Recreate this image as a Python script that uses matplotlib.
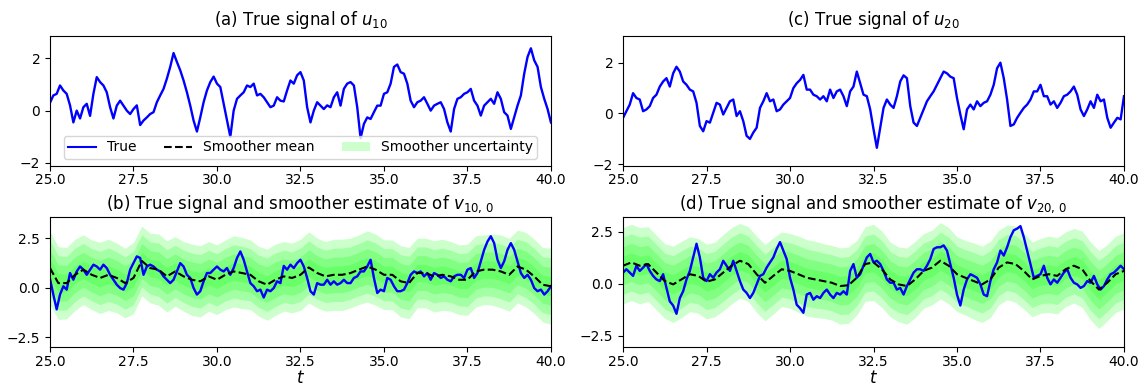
import numpy as np
import matplotlib
matplotlib.use("Agg")
import matplotlib.pyplot as plt
from matplotlib.lines import Line2D
from matplotlib.patches import Patch

# time grids
t_true = np.round(np.arange(250, 401) / 10, 1)      # 25.0 .. 40.0 step 0.1
t_smooth = np.arange(100, 161) / 4                    # 25.0 .. 40.0 step 0.25

# (a) true u_10
u10 = [0.3, 0.58, 0.64, 0.96, 0.77, 0.64, 0.2, -0.45, 0.0, -0.3,
       0.13, 0.26, -0.2, 0.64, 1.28, 1.09, 0.96, 0.7, 0.13, -0.3,
       0.19, 0.38, 0.19, 0.0, -0.13, 0.06, 0.2, -0.55, -0.38, -0.26,
       -0.13, -0.06, 0.32, 0.58, 0.83, 1.22, 1.67, 2.2, 1.86, 1.54,
       1.15, 0.7, 0.19, -0.38, -0.8, -0.26, 0.32, 0.77, 1.09, 1.3,
       1.03, 0.9, 0.26, -0.38, -1.0, 0.0, 0.45, 0.58, 0.7, 0.96,
       0.9, 1.03, 0.58, 0.64, 0.51, 0.32, 0.13, 0.19, 0.51, 0.38,
       0.35, 0.77, 1.15, 1.03, 1.35, 1.47, 1.15, 0.13, -0.45, 0.0,
       0.32, 0.19, 0.06, 0.2, 0.13, 0.51, 0.7, 0.19, 0.83, 1.03,
       1.09, 0.96, 0.13, -1.05, -0.51, -0.26, -0.32, -0.06, 0.19, 0.19,
       0.64, 0.7, 1.03, 1.67, 1.76, 1.47, 1.41, 1.03, 0.38, 0.13,
       0.32, 0.38, 0.51, 0.26, 0.0, 0.19, 0.26, 0.32, 0.06, -0.45,
       -0.8, 0.06, 0.45, 0.51, 0.64, 0.7, 0.83, 0.38, 0.19, -0.19,
       0.19, 0.32, 0.45, 0.26, 0.7, 0.45, -0.06, -0.19, -0.7, -0.26,
       0.19, 0.58, 1.41, 2.05, 2.38, 1.92, 1.67, 0.9, 0.45, 0.06,
       -0.45]

# (c) true u_20
u20 = [-0.17, 0.09, 0.35, 0.8, 0.61, 0.55, 0.09, 0.16, 0.29, 0.61,
       0.74, 1.06, 1.26, 1.39, 1.06, 1.58, 1.84, 1.65, 1.26, 1.13,
       0.94, 0.87, 0.42, -0.49, -0.7, -0.3, -0.36, 0.03, 0.42, 0.35,
       -0.04, 0.22, 0.48, 0.55, -0.1, 0.09, -0.3, -0.88, -1.0, -0.75,
       -0.56, 0.22, 0.48, 0.8, 0.48, 0.55, 0.09, 0.16, 0.35, 0.48,
       0.61, 1.0, 1.19, 1.32, 1.52, 0.94, 0.94, 0.74, 0.68, 0.55,
       0.68, 0.48, 0.94, 0.61, 0.87, 0.94, 0.68, 0.29, 0.87, 1.06,
       1.65, 1.2, 0.74, 0.68, 0.16, -0.62, -1.35, -0.56, 0.22, 0.55,
       0.35, 0.22, 0.68, 1.26, 1.5, 1.39, 0.29, -0.36, -0.49, -0.17,
       0.16, 0.48, 0.68, 0.87, 1.13, 1.39, 1.65, 1.58, 1.45, 1.39,
       0.61, -0.04, -0.62, 0.16, 0.35, 0.16, 0.48, 0.29, 0.42, 0.48,
       0.74, 1.13, 1.78, 2.0, 1.39, 0.55, -0.49, -0.43, -0.17, 0.03,
       0.22, 0.35, 0.55, 0.87, 0.87, 1.13, 0.68, 0.68, 0.35, 0.48,
       0.22, 0.42, 0.68, 0.74, 0.87, 1.06, 0.74, 0.16, -0.1, 0.16,
       0.48, 0.22, 0.74, 0.48, 0.55, -0.17, -0.56, -0.36, -0.17, -0.23,
       0.68]

# (b) true v_{10,0}
v10 = [0.45, -0.35, -1.1, -0.35, 0.07, -0.1, 0.74, 0.4, 0.82, 1.07,
       0.91, 0.65, 0.91, 1.16, 1.07, 0.91, 1.16, 0.99, 0.65, 0.4,
       0.15, -0.02, -0.1, 0.23, 0.91, 1.24, 1.58, 1.5, 0.65, 1.07,
       1.16, 1.07, 0.91, 0.82, 0.57, 0.4, 0.23, 0.4, 0.82, 1.24,
       1.07, 0.65, 0.49, -0.02, -0.35, -0.18, 0.32, 0.74, 0.74, 0.91,
       1.07, 0.91, 0.82, 0.99, 0.65, 0.99, 1.5, 1.83, 1.41, 0.82,
       0.23, 0.07, -0.18, -0.1, -0.5, -0.1, -0.18, -0.02, 0.32, 0.23,
       1.1, 0.91, 1.16, 0.99, 1.24, 1.41, 1.07, 0.49, -0.18, -0.35,
       0.23, 0.15, 0.15, 0.4, 0.15, 0.32, 0.15, 0.23, 0.4, 0.23,
       0.23, 0.49, 0.57, 0.82, 0.82, 1.07, 1.41, 0.49, -0.27, -0.1,
       -0.18, 0.49, 0.4, 0.07, -0.18, -0.18, -0.1, 0.23, 0.65, 0.82,
       0.74, 0.82, 0.57, 0.74, 0.4, 0.74, 0.65, 0.49, 0.57, 0.4,
       0.32, 0.57, 0.65, 0.65, 0.49, 0.91, 0.99, 0.49, 0.74, 1.33,
       1.91, 2.33, 2.6, 2.25, 1.41, 0.99, 1.33, 1.91, 2.25, 1.91,
       1.33, 0.74, 0.49, 0.65, 0.4, -0.02, -0.18, -0.1, -0.35, -0.18,
       0.07]

# (d) true v_{20,0}
v20 = [0.54, 0.7, 0.54, 0.38, 0.87, 0.62, 0.78, 0.95, 0.62, 0.38,
       0.21, 0.13, 0.46, -0.2, -0.85, -1.05, -1.45, -0.69, -0.36, 0.21,
       0.62, 1.27, 1.93, 1.27, 0.29, 0.13, 0.46, 0.29, 0.54, 0.7,
       1.11, 0.87, 0.62, 1.11, 0.62, 0.13, -0.28, -0.44, -0.69, -0.44,
       -0.03, 0.38, 0.46, 0.78, 1.03, 1.27, 1.68, 2.01, 1.6, 1.19,
       0.29, -0.28, -1.01, -1.18, -1.4, -0.52, -0.44, -0.77, -0.6, -0.69,
       -0.44, -0.28, -0.52, -0.69, -0.44, -0.52, -0.36, -0.52, 0.62, 0.95,
       0.29, 0.46, 0.87, 1.27, 1.44, 1.03, 1.11, 0.95, 0.62, 0.21,
       0.05, 0.05, -0.28, -0.2, -0.52, -0.11, 0.21, 0.54, 0.7, 0.7,
       0.62, 0.87, 1.19, 1.68, 1.76, 1.76, 1.85, 1.6, 0.95, 0.29,
       -0.52, -1.05, -0.28, 0.21, 0.46, 0.38, 0.29, -0.03, -0.52, -0.6,
       0.13, 0.7, 1.03, 1.6, 1.36, 1.76, 2.25, 2.58, 2.66, 2.78,
       2.25, 1.6, 0.95, 0.29, 0.38, 0.46, 0.87, 0.29, -0.03, 0.21,
       0.05, 0.29, 0.54, 0.7, 0.29, 0.05, -0.03, -0.2, -0.11, 0.13,
       0.05, 0.38, -0.03, -0.28, -0.11, 0.21, 0.46, 0.54, 0.7, 0.87,
       0.7]

# smoother mean and std (step 0.25)
mean_b = [0.99, 0.23, 0.23, 0.65, 0.91, 0.65, 0.49, 0.65, 0.49, 0.23,
          0.49, 1.35, 0.99, 0.91, 0.57, 0.82, 0.57, 0.4, 0.32, 0.57,
          0.4, 0.65, 0.82, 0.74, 0.65, 0.32, 0.15, 0.4, 0.57, 0.49,
          0.65, 1.02, 0.74, 0.57, 0.65, 0.65, 0.74, 0.91, 1.07, 0.91,
          0.65, 0.65, 0.32, 0.23, 0.74, 0.74, 0.57, 0.65, 0.57, 0.4,
          0.4, 0.82, 0.91, 0.91, 0.82, 0.65, 1.07, 0.91, 0.57, 0.15,
          0.07]
std_b = [0.46, 0.46, 0.45, 0.45, 0.44, 0.44, 0.45, 0.45, 0.44, 0.44,
         0.45, 0.44, 0.44, 0.45, 0.45, 0.44, 0.44, 0.45, 0.45, 0.44,
         0.44, 0.44, 0.45, 0.45, 0.44, 0.44, 0.45, 0.45, 0.44, 0.44,
         0.45, 0.45, 0.44, 0.44, 0.45, 0.45, 0.44, 0.44, 0.45, 0.45,
         0.44, 0.44, 0.45, 0.45, 0.44, 0.44, 0.45, 0.45, 0.44, 0.44,
         0.45, 0.45, 0.44, 0.45, 0.46, 0.46, 0.46, 0.47, 0.47, 0.47,
         0.48]
mean_d = [0.87, 1.03, 0.87, 0.95, 0.54, 0.13, -0.03, 0.21, 0.46, 0.38,
          0.1, 0.21, 0.54, 0.87, 1.11, 0.95, 0.46, 0.05, 0.38, 0.7,
          0.62, 0.46, 0.29, 0.21, 0.13, 0.05, -0.11, -0.07, 0.29, 0.95,
          1.03, 0.7, 0.21, -0.03, -0.11, 0.21, 0.62, 0.78, 1.11, 0.87,
          0.46, 0.29, 0.13, -0.03, 0.21, 0.78, 1.03, 0.95, 0.62, 0.21,
          0.38, 0.46, 0.38, 0.7, 0.87, 0.7, 0.13, -0.28, 0.05, 0.46,
          0.62]
std_d = [0.46, 0.46, 0.46, 0.45, 0.45, 0.45, 0.46, 0.46, 0.45, 0.45,
         0.45, 0.45, 0.46, 0.46, 0.45, 0.45, 0.46, 0.46, 0.46, 0.45,
         0.45, 0.46, 0.46, 0.46, 0.45, 0.45, 0.46, 0.46, 0.45, 0.45,
         0.46, 0.46, 0.45, 0.45, 0.46, 0.46, 0.45, 0.45, 0.46, 0.46,
         0.45, 0.45, 0.46, 0.46, 0.46, 0.45, 0.45, 0.46, 0.46, 0.45,
         0.45, 0.46, 0.46, 0.45, 0.45, 0.46, 0.47, 0.47, 0.46, 0.46,
         0.46]

xticks = [25.0, 27.5, 30.0, 32.5, 35.0, 37.5, 40.0]

fig, axs = plt.subplots(2, 2, figsize=(11.44, 3.85), dpi=100)
fig.subplots_adjust(left=0.0437, right=0.9825, top=0.9065, bottom=0.0987,
                    wspace=0.144, hspace=0.40)

# top row: true signals
for ax, sig, title, ylim in [(axs[0, 0], u10, "(a) True signal of $u_{10}$", (-2.1, 2.85)),
                             (axs[0, 1], u20, "(c) True signal of $u_{20}$", (-2.05, 3.05))]:
    ax.plot(t_true, sig, color="blue", lw=1.7)
    ax.set_ylim(*ylim)
    ax.set_yticks([-2, 0, 2])
    ax.set_title(title, fontsize=12, pad=8)

# bottom row: smoother estimates
for ax, sig, mu, sd, title, ylim in [
        (axs[1, 0], v10, mean_b, std_b, "(b) True signal and smoother estimate of $v_{10,\\,0}$", (-3.0, 3.55)),
        (axs[1, 1], v20, mean_d, std_d, "(d) True signal and smoother estimate of $v_{20,\\,0}$", (-3.05, 3.2))]:
    mu = np.array(mu)
    sd = np.array(sd)
    for k in [4, 3, 2, 1]:
        ax.fill_between(t_smooth, mu - k * sd, mu + k * sd, color="lime", alpha=0.2, lw=0)
    ax.plot(t_true, sig, color="blue", lw=1.7)
    ax.plot(t_smooth, mu, color="black", ls="--", lw=1.5)
    ax.set_ylim(*ylim)
    ax.set_yticks([-2.5, 0.0, 2.5])
    ax.set_title(title, fontsize=12, pad=6)
    ax.set_xlabel("$t$", fontsize=12, labelpad=0)

for ax in axs.flat:
    ax.set_xlim(25, 40)
    ax.set_xticks(xticks)
    ax.tick_params(labelsize=10)
    ax.tick_params(axis="x", pad=2)

handles = [Line2D([], [], color="blue", lw=1.5),
           Line2D([], [], color="black", ls="--", lw=1.5),
           Patch(facecolor="lime", alpha=0.2)]
axs[0, 0].legend(handles, ["True", "Smoother mean", "Smoother uncertainty"],
                 loc="lower center", ncol=3, fontsize=10, columnspacing=2.0,
                 borderpad=0.3, handlelength=2.0)

fig.savefig("out.png", dpi=100)
